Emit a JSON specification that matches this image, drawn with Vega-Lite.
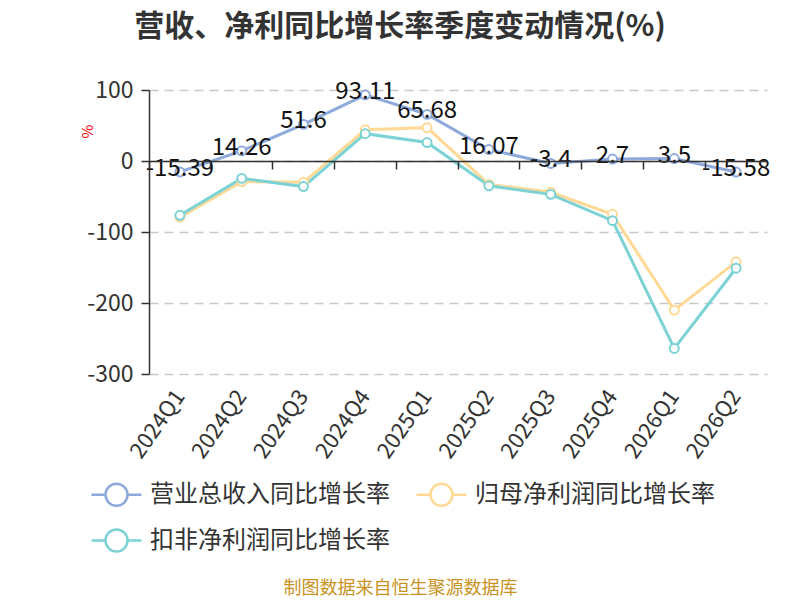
{
  "$schema": "https://vega.github.io/schema/vega-lite/v6.json",
  "width": 618,
  "height": 284,
  "autosize": {"type": "none"},
  "padding": {"left": 149, "top": 90, "right": 33, "bottom": 226},
  "background": "white",
  "config": {
    "font": "Noto Sans CJK SC",
    "view": {"stroke": null}
  },
  "title": {
    "text": "营收、净利同比增长率季度变动情况(%)",
    "anchor": "middle",
    "frame": "group",
    "dx": -58,
    "offset": 37,
    "fontSize": 30,
    "fontWeight": "bold",
    "color": "#333333",
    "font": "Noto Sans CJK SC"
  },
  "data": {
    "values": [
      {"quarter": "2024Q1", "series": "营业总收入同比增长率", "value": -15.39},
      {"quarter": "2024Q2", "series": "营业总收入同比增长率", "value": 14.26},
      {"quarter": "2024Q3", "series": "营业总收入同比增长率", "value": 51.6},
      {"quarter": "2024Q4", "series": "营业总收入同比增长率", "value": 93.11},
      {"quarter": "2025Q1", "series": "营业总收入同比增长率", "value": 65.68},
      {"quarter": "2025Q2", "series": "营业总收入同比增长率", "value": 16.07},
      {"quarter": "2025Q3", "series": "营业总收入同比增长率", "value": -3.4},
      {"quarter": "2025Q4", "series": "营业总收入同比增长率", "value": 2.7},
      {"quarter": "2026Q1", "series": "营业总收入同比增长率", "value": 3.5},
      {"quarter": "2026Q2", "series": "营业总收入同比增长率", "value": -15.58},
      {"quarter": "2024Q1", "series": "归母净利润同比增长率", "value": -79},
      {"quarter": "2024Q2", "series": "归母净利润同比增长率", "value": -29},
      {"quarter": "2024Q3", "series": "归母净利润同比增长率", "value": -30},
      {"quarter": "2024Q4", "series": "归母净利润同比增长率", "value": 44},
      {"quarter": "2025Q1", "series": "归母净利润同比增长率", "value": 47},
      {"quarter": "2025Q2", "series": "归母净利润同比增长率", "value": -33},
      {"quarter": "2025Q3", "series": "归母净利润同比增长率", "value": -44},
      {"quarter": "2025Q4", "series": "归母净利润同比增长率", "value": -75},
      {"quarter": "2026Q1", "series": "归母净利润同比增长率", "value": -210},
      {"quarter": "2026Q2", "series": "归母净利润同比增长率", "value": -142},
      {"quarter": "2024Q1", "series": "扣非净利润同比增长率", "value": -76.5},
      {"quarter": "2024Q2", "series": "扣非净利润同比增长率", "value": -24.5},
      {"quarter": "2024Q3", "series": "扣非净利润同比增长率", "value": -36},
      {"quarter": "2024Q4", "series": "扣非净利润同比增长率", "value": 38.5},
      {"quarter": "2025Q1", "series": "扣非净利润同比增长率", "value": 26},
      {"quarter": "2025Q2", "series": "扣非净利润同比增长率", "value": -35},
      {"quarter": "2025Q3", "series": "扣非净利润同比增长率", "value": -47},
      {"quarter": "2025Q4", "series": "扣非净利润同比增长率", "value": -84},
      {"quarter": "2026Q1", "series": "扣非净利润同比增长率", "value": -264},
      {"quarter": "2026Q2", "series": "扣非净利润同比增长率", "value": -151}
    ]
  },
  "resolve": {"axis": {"x": "independent"}},
  "layer": [
    {
      "mark": {"type": "line", "strokeWidth": 3},
      "encoding": {
        "x": {
          "field": "quarter",
          "type": "ordinal",
          "sort": null,
          "scale": {"type": "band", "paddingInner": 0, "paddingOuter": 0},
          "axis": {
            "orient": "bottom",
            "domain": false,
            "ticks": false,
            "grid": false,
            "labelAngle": -55,
            "labelFontSize": 22,
            "labelColor": "#333333",
            "labelPadding": 18,
            "title": "制图数据来自恒生聚源数据库",
            "titleColor": "#C8921E",
            "titleFontSize": 18,
            "titleFontWeight": "normal",
            "titleX": 251,
            "titleY": 214,
            "titleAlign": "center",
            "titleBaseline": "middle"
          }
        },
        "y": {
          "field": "value",
          "type": "quantitative",
          "scale": {"domain": [-300, 100], "nice": false, "zero": false},
          "axis": {
            "values": [-300, -200, -100, 0, 100],
            "labelExpr": "replace(datum.label, '−', '-')",
            "domainColor": "#333333",
            "domainWidth": 1.5,
            "tickColor": "#333333",
            "tickSize": 8,
            "tickWidth": 1.5,
            "labelPadding": 8,
            "labelFontSize": 23,
            "labelColor": "#333333",
            "grid": true,
            "gridDash": [9, 6],
            "gridColor": "#c8c8c8",
            "gridWidth": 1.5,
            "title": "%",
            "titleColor": "#ee0000",
            "titleFontSize": 15,
            "titleFontWeight": "normal",
            "titleX": -62,
            "titleY": 41,
            "titleAlign": "center",
            "titleBaseline": "middle",
            "titleAngle": -90
          }
        },
        "color": {
          "field": "series",
          "type": "nominal",
          "sort": ["营业总收入同比增长率", "归母净利润同比增长率", "扣非净利润同比增长率"],
          "scale": {
            "domain": ["营业总收入同比增长率", "归母净利润同比增长率", "扣非净利润同比增长率"],
            "range": ["#8EA9DB", "#FFD995", "#7CD2D5"]
          },
          "legend": {
            "orient": "none",
            "legendX": -54,
            "legendY": 383,
            "direction": "horizontal",
            "columns": 2,
            "title": null,
            "padding": 0,
            "columnPadding": 21,
            "rowPadding": 8,
            "symbolType": "M-1.25,0L-0.55,0M0.55,0L1.25,0M-0.55,0A0.55,0.55 0 1,1 0.55,0A0.55,0.55 0 1,1 -0.55,0",
            "symbolSize": 1600,
            "symbolStrokeWidth": 2.5,
            "symbolFillColor": "white",
            "labelOffset": 12,
            "labelFontSize": 24,
            "labelColor": "#333333",
            "labelLimit": 400,
            "encode": {
              "symbols": {
                "update": {
                  "size": {"value": 1600},
                  "strokeWidth": {"value": 2.5},
                  "fill": {"value": "white"},
                  "shape": {"value": "M-1.25,0L-0.55,0M0.55,0L1.25,0M-0.55,0A0.55,0.55 0 1,1 0.55,0A0.55,0.55 0 1,1 -0.55,0"}
                }
              }
            }
          }
        }
      }
    },
    {
      "mark": {"type": "point", "filled": false, "fill": "white", "fillOpacity": 1, "size": 80, "strokeWidth": 2, "opacity": 1},
      "encoding": {
        "x": {
          "field": "quarter",
          "type": "ordinal",
          "sort": null,
          "axis": {
            "orient": "bottom",
            "offset": -213,
            "labels": false,
            "grid": false,
            "title": null,
            "domainColor": "#333333",
            "domainWidth": 1.5,
            "tickColor": "#333333",
            "tickWidth": 1.5,
            "tickSize": 8,
            "bandPosition": 0,
            "zindex": 1
          }
        },
        "y": {"field": "value", "type": "quantitative"},
        "color": {"field": "series", "type": "nominal"}
      }
    },
    {
      "transform": [{"filter": "datum.series === '营业总收入同比增长率'"}],
      "mark": {"type": "text", "fontSize": 24, "color": "#111111", "dy": -3, "baseline": "middle", "align": "center"},
      "encoding": {
        "x": {"field": "quarter", "type": "ordinal", "sort": null, "axis": null},
        "y": {"field": "value", "type": "quantitative"},
        "text": {"field": "value", "type": "nominal"}
      }
    }
  ]
}
